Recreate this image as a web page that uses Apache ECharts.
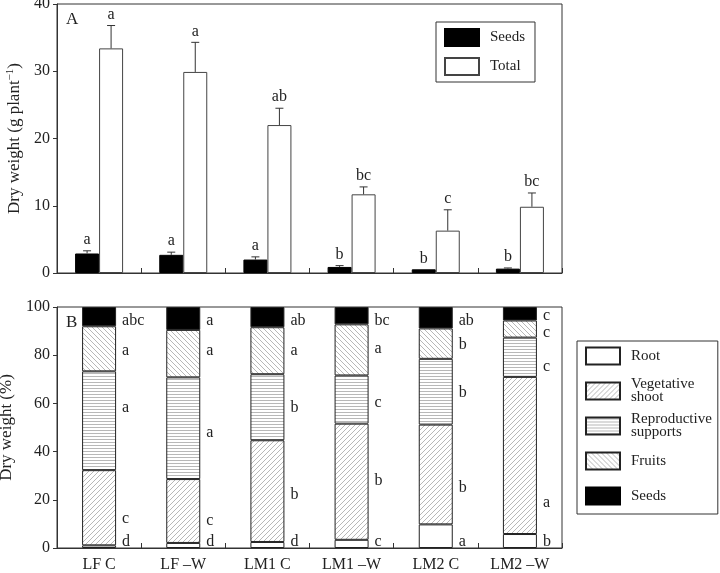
<!DOCTYPE html>
<html>
<head>
<meta charset="utf-8">
<script src="https://cdn.jsdelivr.net/npm/echarts@6/dist/echarts.min.js"></script>
<style>html,body{margin:0;padding:0;background:#fff}#c{width:720px;height:573px}</style>
</head>
<body>
<div id="c"></div>
<script>
// ---- data ----
const categories = ['LF C', 'LF \u2013W', 'LM1 C', 'LM1 \u2013W', 'LM2 C', 'LM2 \u2013W'];
// Panel A (g plant-1)
const seedsDW = [2.9, 2.7, 2.0, 0.9, 0.55, 0.65];
const seedsErr = [0.4, 0.4, 0.4, 0.2, 0, 0.1];
const seedsLetters = ['a', 'a', 'a', 'b', 'b', 'b'];
const totalDW = [33.4, 29.9, 22.0, 11.7, 6.3, 9.85];
const totalErr = [3.4, 4.4, 2.5, 1.1, 3.1, 2.05];
const totalLetters = ['a', 'a', 'ab', 'bc', 'c', 'bc'];
// Panel B (%)
const rootPct = [1.1, 2.1, 2.5, 3.4, 9.8, 5.8];
const vegPct = [31.2, 26.5, 42.2, 48.2, 41.4, 65.2];
const reproPct = [41.0, 42.2, 27.4, 20.0, 27.3, 16.3];
const fruitsPct = [18.7, 19.7, 19.5, 21.2, 12.6, 7.1];
const seedsPct = [8.0, 9.5, 8.4, 7.2, 8.9, 5.6];
const rootLetters = ['d', 'd', 'd', 'c', 'a', 'b'];
const vegLetters = ['c', 'c', 'b', 'b', 'b', 'a'];
const reproLetters = ['a', 'a', 'b', 'c', 'b', 'c'];
const fruitsLetters = ['a', 'a', 'a', 'a', 'b', 'c'];
const seedsPctLetters = ['abc', 'a', 'ab', 'bc', 'ab', 'c'];
// letter anchor heights (% axis)
const rootLetterY = [2.7, 2.7, 2.7, 2.5, 2.6, 2.7];
const vegLetterY = [12.1, 11.4, 22.1, 27.9, 24.8, 18.6];
const reproLetterY = [58.2, 47.8, 58.2, 60.4, 64.2, 75.0];
const fruitsLetterY = [81.7, 81.7, 81.7, 82.6, 84.2, 89.4];
const seedsLetterY = [94.2, 94.2, 94.2, 94.2, 94.2, 96.4];

// ---- styles ----
const FONT = '"Liberation Serif", "Times New Roman", serif';
const INK = '#222';
function hatch(kind) {
  const s = kind === 'h' ? 3 : 5;
  const c = document.createElement('canvas');
  c.width = s; c.height = s;
  const g = c.getContext('2d');
  g.fillStyle = '#fff'; g.fillRect(0, 0, s, s);
  g.strokeStyle = '#999'; g.lineWidth = 0.7;
  g.beginPath();
  if (kind === 'h') {
    g.moveTo(0, 1.5); g.lineTo(s, 1.5);
  } else if (kind === '/') {
    g.moveTo(-1, s + 1); g.lineTo(s + 1, -1);
    g.moveTo(-1, 1); g.lineTo(1, -1);
    g.moveTo(s - 1, s + 1); g.lineTo(s + 1, s - 1);
  } else {
    g.moveTo(-1, -1); g.lineTo(s + 1, s + 1);
    g.moveTo(-1, s - 1); g.lineTo(1, s + 1);
    g.moveTo(s - 1, -1); g.lineTo(s + 1, 1);
  }
  g.stroke();
  return { image: c, repeat: 'repeat' };
}

const barW = 24;
function errRender(sign, letters) {
  return function (params, api) {
    const i = api.value(0), v = api.value(1), e = api.value(2);
    const base = api.coord([i, v]);
    const top = api.coord([i, v + e]);
    const cx = base[0] + sign * barW / 2;
    const children = [];
    let ty = base[1];
    if (e > 0) {
      children.push({ type: 'line', shape: { x1: cx, y1: base[1], x2: cx, y2: top[1] }, style: { stroke: '#333', lineWidth: 1 } });
      children.push({ type: 'line', shape: { x1: cx - 4, y1: top[1], x2: cx + 4, y2: top[1] }, style: { stroke: '#333', lineWidth: 1 } });
      ty = top[1];
    }
    children.push({ type: 'text', style: { text: letters[params.dataIndex], x: cx, y: ty - 3, align: 'center', verticalAlign: 'bottom', fontSize: 16, fontFamily: FONT, fill: INK } });
    return { type: 'group', children: children };
  };
}
function letterRender(letters) {
  return function (params, api) {
    const p = api.coord([api.value(0), api.value(1)]);
    return { type: 'text', style: { text: letters[params.dataIndex], x: p[0] + 23, y: p[1], align: 'left', verticalAlign: 'middle', fontSize: 16, fontFamily: FONT, fill: INK } };
  };
}

const axisCommon = {
  axisLine: { show: true, lineStyle: { color: '#333', width: 1 } },
  splitLine: { show: false },
};
const yLabel = { color: INK, fontSize: 16, fontFamily: FONT, margin: 7 };

const chart = echarts.init(document.getElementById('c'), null, { renderer: 'canvas' });
const bSeries = [
  ['Root', rootPct, '#fff'],
  ['Vegetative shoot', vegPct, hatch('/')],
  ['Reproductive supports', reproPct, hatch('h')],
  ['Fruits', fruitsPct, hatch('\\')],
  ['Seeds', seedsPct, '#000'],
].map(([name, data, color]) => ({
  name: name, type: 'bar', xAxisIndex: 1, yAxisIndex: 1, stack: 'pct', barWidth: 34,
  data: data, itemStyle: { color: color, borderColor: '#222', borderWidth: 1 }
}));
const letterSets = [
  [rootLetters, rootLetterY], [vegLetters, vegLetterY], [reproLetters, reproLetterY],
  [fruitsLetters, fruitsLetterY], [seedsPctLetters, seedsLetterY]
].map(([L, Y]) => ({
  type: 'custom', xAxisIndex: 1, yAxisIndex: 1, silent: true, z: 5,
  renderItem: letterRender(L), data: Y.map((y, i) => [i, y])
}));

chart.setOption({
  animation: false,
  backgroundColor: '#fff',
  textStyle: { fontFamily: FONT },
  grid: [
    { left: 57, right: 158, top: 4, height: 269, outerBoundsMode: 'none', containLabel: false, show: true, borderColor: '#333', borderWidth: 1, backgroundColor: 'transparent' },
    { left: 57, right: 158, top: 307, height: 241, outerBoundsMode: 'none', containLabel: false, show: true, borderColor: '#333', borderWidth: 1, backgroundColor: 'transparent' }
  ],
  xAxis: [
    Object.assign({ type: 'category', gridIndex: 0, data: categories, axisTick: { show: true, inside: true, length: 5, lineStyle: { color: '#333' } }, axisLabel: { show: false } }, axisCommon),
    Object.assign({ type: 'category', gridIndex: 1, data: categories, axisTick: { show: true, inside: true, length: 5, lineStyle: { color: '#333' } }, axisLabel: { color: INK, fontSize: 16, fontFamily: FONT, margin: 9 } }, axisCommon)
  ],
  yAxis: [
    Object.assign({ type: 'value', gridIndex: 0, min: 0, max: 40, interval: 10, axisTick: { show: true, length: 4, lineStyle: { color: '#333' } }, axisLabel: yLabel,
      name: 'Dry weight (g plant{sup|\u22121})', nameLocation: 'middle', nameGap: 32,
      nameTextStyle: { color: INK, fontSize: 17, fontFamily: FONT, rich: { sup: { fontSize: 11, verticalAlign: 'top', padding: [0, 0, 8, 0], fontFamily: FONT, color: INK } } } }, axisCommon),
    Object.assign({ type: 'value', gridIndex: 1, min: 0, max: 100, interval: 20, axisTick: { show: true, length: 4, lineStyle: { color: '#333' } }, axisLabel: yLabel,
      name: 'Dry weight (%)', nameLocation: 'middle', nameGap: 32,
      nameTextStyle: { color: INK, fontSize: 17, fontFamily: FONT } }, axisCommon)
  ],
  legend: [
    { data: ['Seeds', 'Total'], orient: 'vertical', left: 436, top: 22, itemWidth: 34, itemHeight: 17, itemGap: 10,
      padding: [6, 10, 6, 8], borderColor: '#333', borderWidth: 1, icon: 'rect', selectedMode: false,
      textStyle: { color: INK, fontSize: 15, fontFamily: FONT, padding: [0, 0, 0, 6] } },
    { data: ['Root', 'Vegetative shoot', 'Reproductive supports', 'Fruits', 'Seeds'], orient: 'vertical', left: 577, top: 341,
      itemWidth: 34, itemHeight: 17, itemGap: 7, padding: [1, 6, 4, 8], borderColor: '#333', borderWidth: 1, icon: 'rect', selectedMode: false,
      formatter: n => n.replace(' ', '\n'),
      textStyle: { color: INK, fontSize: 15, fontFamily: FONT, lineHeight: 13, height: 28, verticalAlign: 'middle', padding: [0, 0, 0, 6] } }
  ],
  graphic: [
    { type: 'text', left: 66, top: 11, style: { text: 'A', fontSize: 17, fontFamily: FONT, fill: INK } },
    { type: 'text', left: 66, top: 314, style: { text: 'B', fontSize: 17, fontFamily: FONT, fill: INK } }
  ],
  series: [
    { name: 'Seeds', type: 'bar', xAxisIndex: 0, yAxisIndex: 0, barWidth: barW, barGap: '0%', data: seedsDW,
      itemStyle: { color: '#000', borderColor: '#000', borderWidth: 1 } },
    { name: 'Total', type: 'bar', xAxisIndex: 0, yAxisIndex: 0, barWidth: barW, barGap: '0%', data: totalDW,
      itemStyle: { color: '#fff', borderColor: '#444', borderWidth: 1 } },
    { type: 'custom', xAxisIndex: 0, yAxisIndex: 0, silent: true, z: 5, renderItem: errRender(-1, seedsLetters),
      data: seedsDW.map((v, i) => [i, v, seedsErr[i]]) },
    { type: 'custom', xAxisIndex: 0, yAxisIndex: 0, silent: true, z: 5, renderItem: errRender(1, totalLetters),
      data: totalDW.map((v, i) => [i, v, totalErr[i]]) }
  ].concat(bSeries, letterSets)
});
</script>
</body>
</html>
